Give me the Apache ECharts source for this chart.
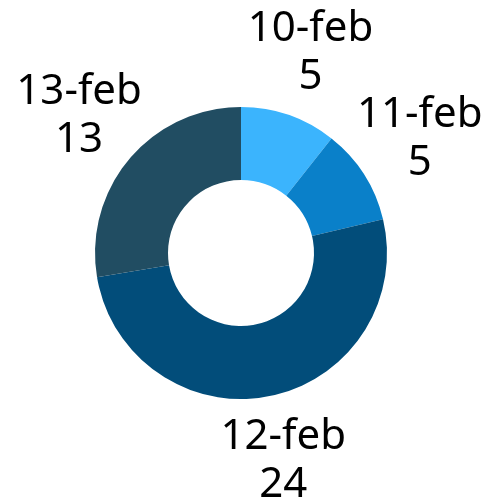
<!DOCTYPE html>
<html>
<head>
<meta charset="utf-8">
<script src="https://cdn.jsdelivr.net/npm/echarts@6/dist/echarts.min.js"></script>
<style>
  html, body { margin: 0; padding: 0; background: #fff; }
  #chart { width: 498px; height: 504px; }
</style>
</head>
<body>
<div id="chart"></div>
<script>
    var categories = ['10-feb', '11-feb', '12-feb', '13-feb'];
    var values = [5, 5, 24, 13];
    var colors = ['#3bb4fd', '#0a80c9', '#024d7a', '#214d62'];

    var myChart = echarts.init(document.getElementById('chart'));
    var pieData = categories.map(function (name, i) {
        return {name: name, value: values[i], itemStyle: {color: colors[i]}};
    });
    var option = {
        animation: false,
        series: [
            {
                type: 'pie',
                center: [241, 253],
                radius: [73, 146],
                startAngle: 90,
                clockwise: true,
                label: {show: false},
                labelLine: {show: false},
                data: pieData
            },
            {
                // transparent ring, only used to place the labels further out
                type: 'pie',
                center: [241, 253],
                radius: [200, 218],
                startAngle: 90,
                clockwise: true,
                silent: true,
                avoidLabelOverlap: false,
                labelLayout: {hideOverlap: false},
                itemStyle: {color: 'rgba(0,0,0,0)'},
                label: {
                    show: true,
                    position: 'inside',
                    formatter: '{b}\n{c}',
                    color: '#000',
                    fontFamily: 'Noto Sans',
                    fontSize: 42,
                    lineHeight: 48,
                    align: 'center'
                },
                labelLine: {show: false},
                data: categories.map(function (name, i) {
                    return {name: name, value: values[i]};
                })
            }
        ]
    };
    myChart.setOption(option);
</script>
</body>
</html>
